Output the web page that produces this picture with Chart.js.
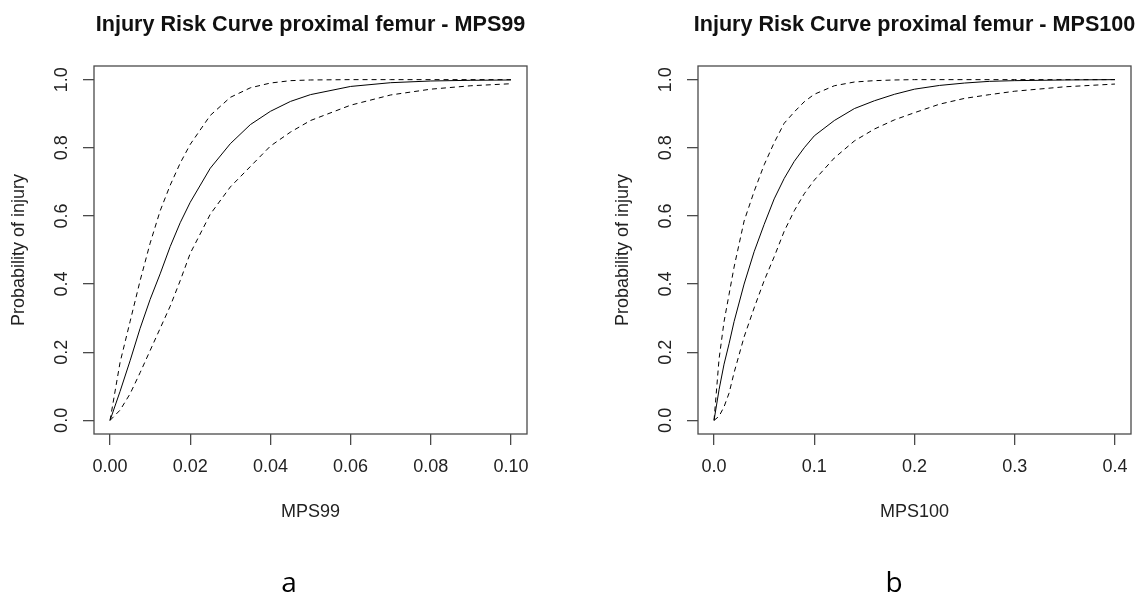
<!DOCTYPE html>
<html>
<head>
<meta charset="utf-8">
<script src="https://cdn.jsdelivr.net/npm/chart.js@4"></script>
<style>
  body { margin: 0; background: #fff; }
  .panel { position: absolute; top: 0; }
</style>
</head>
<body>
<div class="panel" style="left:0"><canvas id="chartA" width="572" height="596"></canvas></div>
<div class="panel" style="left:572px"><canvas id="chartB" width="573" height="596"></canvas></div>
<script>
// panel a: MPS99
const mps99 = [0, 0.0025, 0.005, 0.0075, 0.01, 0.0125, 0.015, 0.0175, 0.02, 0.025, 0.03, 0.035, 0.04, 0.045, 0.05, 0.06, 0.07, 0.08, 0.09, 0.1];
const riskA = [0, 0.085, 0.175, 0.27, 0.355, 0.43, 0.51, 0.58, 0.64, 0.74, 0.812, 0.868, 0.907, 0.936, 0.956, 0.98, 0.991, 0.996, 0.998, 0.999];
const upperA = [0, 0.17, 0.29, 0.41, 0.52, 0.615, 0.69, 0.755, 0.81, 0.895, 0.948, 0.976, 0.99, 0.997, 0.999, 1, 1, 1, 1, 1];
const lowerA = [0, 0.03, 0.078, 0.14, 0.205, 0.27, 0.335, 0.41, 0.49, 0.605, 0.685, 0.745, 0.805, 0.846, 0.88, 0.925, 0.955, 0.972, 0.982, 0.988];

// panel b: MPS100
const mps100 = [0, 0.005, 0.01, 0.015, 0.02, 0.03, 0.04, 0.05, 0.06, 0.07, 0.08, 0.09, 0.1, 0.12, 0.14, 0.16, 0.18, 0.2, 0.225, 0.25, 0.275, 0.3, 0.35, 0.4];
const riskB = [0, 0.09, 0.165, 0.225, 0.29, 0.40, 0.495, 0.575, 0.65, 0.71, 0.76, 0.80, 0.835, 0.88, 0.915, 0.938, 0.957, 0.972, 0.983, 0.99, 0.995, 0.997, 0.999, 1];
const upperB = [0, 0.18, 0.29, 0.37, 0.45, 0.585, 0.672, 0.75, 0.815, 0.872, 0.905, 0.935, 0.957, 0.982, 0.993, 0.997, 0.999, 1, 1, 1, 1, 1, 1, 1];
const lowerB = [0, 0.012, 0.04, 0.08, 0.14, 0.245, 0.33, 0.41, 0.48, 0.555, 0.615, 0.665, 0.705, 0.77, 0.82, 0.855, 0.882, 0.903, 0.928, 0.945, 0.956, 0.966, 0.979, 0.987];

const xTicksA = [0, 0.02, 0.04, 0.06, 0.08, 0.1];
const xLabelsA = ['0.00', '0.02', '0.04', '0.06', '0.08', '0.10'];
const xTicksB = [0, 0.1, 0.2, 0.3, 0.4];
const xLabelsB = ['0.0', '0.1', '0.2', '0.3', '0.4'];
const yTicks = [0, 0.2, 0.4, 0.6, 0.8, 1.0];
const yLabels = ['0.0', '0.2', '0.4', '0.6', '0.8', '1.0'];

const FONT = '"Liberation Sans", Arial, sans-serif';
const INK = '#4a4a4a';

const rFrame = {
  id: 'rFrame',
  afterDraw(chart, args, o) {
    const { ctx, chartArea: a } = chart;
    const cx = (a.left + a.right) / 2;
    ctx.save();
    ctx.strokeStyle = INK;
    ctx.lineWidth = 1.3;
    ctx.strokeRect(a.left, a.top, a.right - a.left, a.bottom - a.top);
    ctx.fillStyle = '#111';
    ctx.textAlign = 'center';
    ctx.textBaseline = 'alphabetic';
    ctx.font = 'bold 21.6px ' + FONT;
    ctx.fillText(o.title, cx, 30.5);
    ctx.fillStyle = '#222';
    ctx.font = '18px ' + FONT;
    ctx.fillText(o.xTitle, cx, 517);
    ctx.save();
    ctx.translate(a.left - 70, (a.top + a.bottom) / 2);
    ctx.rotate(-Math.PI / 2);
    ctx.fillText(o.yTitle, 0, 0);
    ctx.restore();
    ctx.fillStyle = '#000';
    ctx.font = '28px "Open Sans", sans-serif';
    ctx.fillText(o.letter, o.letterX, 592);
    ctx.restore();
  }
};

function curve(xs, ys, dashed) {
  return {
    data: xs.map((x, i) => ({ x: x, y: ys[i] })),
    borderColor: '#000',
    borderWidth: 1,
    borderDash: dashed ? [5, 4] : [],
    pointRadius: 0,
    showLine: true,
    tension: 0
  };
}

function makeChart(id, xs, risk, upper, lower, xr, xTicks, xLabels, yWidth, padRight, frame) {
  return new Chart(document.getElementById(id), {
    type: 'scatter',
    data: { datasets: [curve(xs, upper, true), curve(xs, risk, false), curve(xs, lower, true)] },
    options: {
      responsive: false,
      animation: false,
      layout: { padding: { left: 0, right: padRight, top: 66, bottom: 122 } },
      plugins: { legend: { display: false }, tooltip: { enabled: false }, rFrame: frame },
      scales: {
        x: {
          type: 'linear',
          min: xr[0],
          max: xr[1],
          afterBuildTicks: s => { s.ticks = xTicks.map(v => ({ value: v })); },
          afterFit: s => { s.height = 40; },
          ticks: { callback: (v, i) => xLabels[i], autoSkip: false, maxRotation: 0, padding: 11, color: '#222', font: { family: FONT, size: 18 } },
          grid: { drawOnChartArea: false, tickLength: 11, color: INK, lineWidth: 1.3 },
          border: { display: false }
        },
        y: {
          min: -0.04,
          max: 1.04,
          afterBuildTicks: s => { s.ticks = yTicks.map(v => ({ value: v })); },
          afterFit: s => { s.width = yWidth; },
          ticks: { callback: (v, i) => yLabels[i], minRotation: 90, maxRotation: 90, crossAlign: 'center', padding: 8.5, color: '#222', font: { family: FONT, size: 18 } },
          grid: { drawOnChartArea: false, tickLength: 11, color: INK, lineWidth: 1.3 },
          border: { display: false }
        }
      }
    },
    plugins: [rFrame]
  });
}

makeChart('chartA', mps99, riskA, upperA, lowerA, [-0.004, 0.104], xTicksA, xLabelsA, 94, 45,
  { title: 'Injury Risk Curve proximal femur - MPS99', xTitle: 'MPS99', yTitle: 'Probability of injury', letter: 'a', letterX: 289 });
makeChart('chartB', mps100, riskB, upperB, lowerB, [-0.016, 0.416], xTicksB, xLabelsB, 126, 14,
  { title: 'Injury Risk Curve proximal femur - MPS100', xTitle: 'MPS100', yTitle: 'Probability of injury', letter: 'b', letterX: 322 });
</script>
</body>
</html>
